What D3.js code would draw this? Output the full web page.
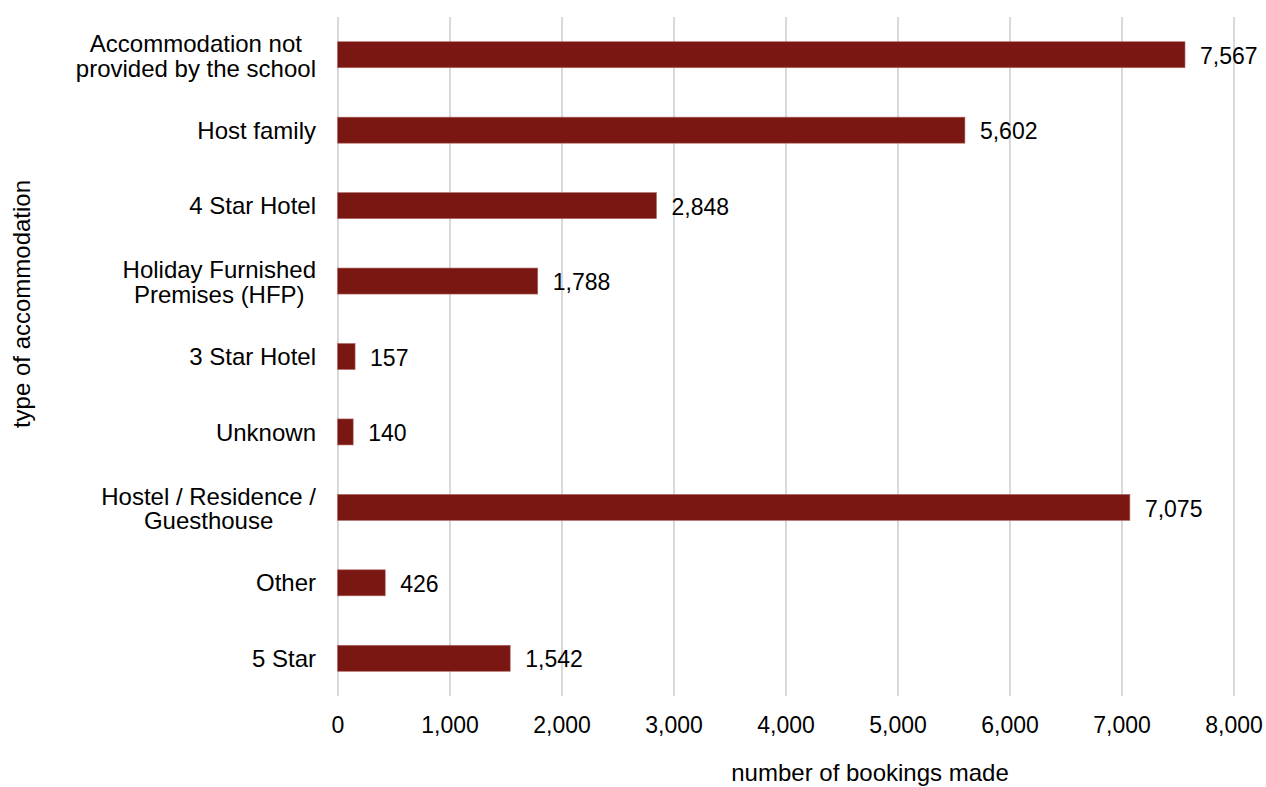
<!DOCTYPE html>
<html><head><meta charset="utf-8">
<script src="https://cdn.jsdelivr.net/npm/d3@7"></script>
<style>body{margin:0;background:#fff;font-family:Arial,"Liberation Sans",sans-serif;}</style>
</head><body>
<svg id="c" width="1266" height="787"></svg>
<script>
const categories = [
  ["Accommodation not", "provided by the school"],
  ["Host family"],
  ["4 Star Hotel"],
  ["Holiday Furnished", "Premises (HFP)"],
  ["3 Star Hotel"],
  ["Unknown"],
  ["Hostel / Residence /", "Guesthouse"],
  ["Other"],
  ["5 Star"]
];
const values = [7567, 5602, 2848, 1788, 157, 140, 7075, 426, 1542];
const xTicks = [0, 1000, 2000, 3000, 4000, 5000, 6000, 7000, 8000];
const xTitle = "number of bookings made";
const yTitle = "type of accommodation";

const svg = d3.select("#c");
const m = {left: 337.5, right: 1233.5, top: 17, bottom: 696};
const x = d3.scaleLinear().domain([0, 8000]).range([m.left, m.right]);
const y = d3.scaleBand().domain(d3.range(categories.length)).range([m.top, m.bottom]).paddingInner(0.655).paddingOuter(0.3275);
const fmt = d3.format(",");

// gridlines
const grid = svg.append("g").attr("transform", `translate(0,${m.bottom})`)
  .call(d3.axisBottom(x).tickValues(xTicks).tickSize(-(m.bottom - m.top)).tickFormat(""));
grid.select(".domain").remove();
grid.selectAll("line").attr("stroke", "#d9d9d9").attr("stroke-width", 2);

// x tick labels
const xa = svg.append("g").attr("transform", `translate(0,${m.bottom})`)
  .call(d3.axisBottom(x).tickValues(xTicks).tickSize(0).tickPadding(21).tickFormat(fmt));
xa.select(".domain").remove();
xa.selectAll("text").attr("font-size", 23).attr("fill", "#000").attr("font-family", "Arial, Liberation Sans, sans-serif");

// bars
svg.append("g").selectAll("rect").data(values).join("rect")
  .attr("x", x(0)).attr("y", (d, i) => y(i))
  .attr("width", d => x(d) - x(0)).attr("height", y.bandwidth())
  .attr("fill", "#7b1712").attr("stroke", "#b06a66").attr("stroke-width", 0.6);

// value labels
svg.append("g").selectAll("text").data(values).join("text")
  .attr("x", d => x(d) + 15).attr("y", (d, i) => y(i) + y.bandwidth() / 2)
  .attr("dy", "0.4em").attr("font-size", 23).attr("fill", "#000")
  .text(d => fmt(d));

// category labels (multi-line blocks: lines centred, block right-aligned)
const lh = 24.5;
const labelRight = 316;
const cl = svg.append("g").selectAll("text").data(categories).join("text")
  .attr("font-size", 24).attr("fill", "#000");
cl.each(function(d, i) {
  const t = d3.select(this);
  const n = d.length;
  const base = y(i) + y.bandwidth() / 2 + 0.36 * 24 - (n - 1) * lh / 2 + (n > 1 ? 1 : 0);
  const spans = d.map((line, k) => t.append("tspan").attr("y", base + k * lh).text(line));
  if (n === 1) {
    t.attr("text-anchor", "end");
    spans[0].attr("x", labelRight);
  } else {
    const w = Math.max(...spans.map(s => s.node().getComputedTextLength()));
    t.attr("text-anchor", "middle");
    spans.forEach(s => s.attr("x", labelRight - w / 2));
  }
});

// axis titles
svg.append("text").attr("x", 870).attr("y", 781)
  .attr("text-anchor", "middle").attr("font-size", 24).attr("fill", "#000").text(xTitle);
svg.append("text").attr("transform", `translate(30,${304}) rotate(-90)`)
  .attr("text-anchor", "middle").attr("font-size", 24).attr("fill", "#000").text(yTitle);
</script>
</body></html>
